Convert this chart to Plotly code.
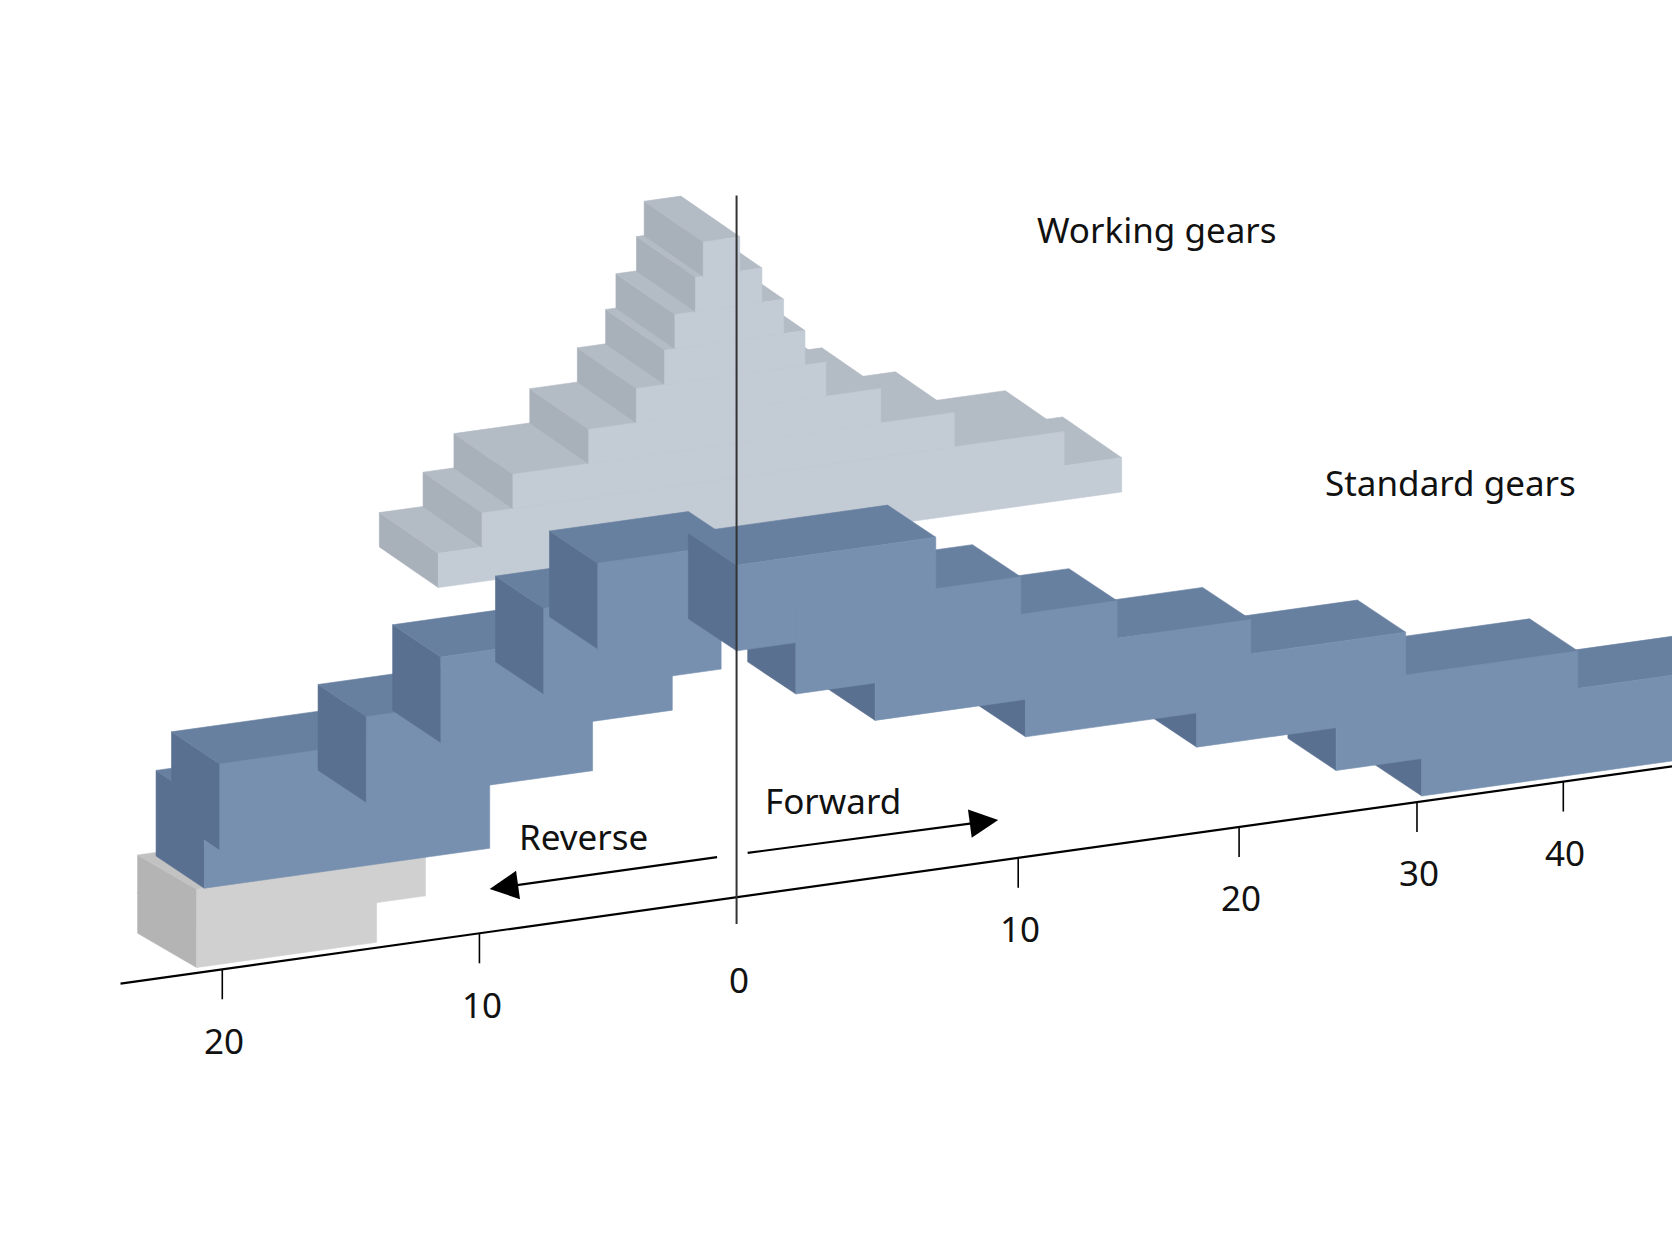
import plotly.graph_objects as go

# ---- data (speed in km/h, elevation in chart units) ----
THICK_W = 32
working_rev = [-11.6, -9.9, -8.7, -5.75, -3.9, -2.8, -2.4, -1.6, -1.3]
working_fwd = [14.4, 11.9, 7.5, 4.8, 2.9, 2.2, 1.5, 0.8, 0.1]
working_base = 328

THICK_S = 80
std_rev_start = [-20.7, -20.1, -14.4, -11.5, -7.5, -5.4]
std_rev_end = [-9.6, -12.0, -5.6, -2.5, -0.6, 0.0]
std_rev_bottom = [78, 112, 137, 183, 215, 250]
std_fwd_start = [0.0, 1.9, 4.6, 10.3, 17.9, 25.2, 30.3]
std_fwd_end = [6.8, 10.1, 14.2, 20.6, 29.3, 41.1, 70.0]
std_fwd_bottom = [230, 182, 147, 112, 80, 40, 5]

grey_start = [-21.0, -21.0]
grey_end = [-14.0, -12.1]
grey_bottom = [5, 42]
grey_thick = [38, 36]

tick_vals = [-20, -10, 0, 10, 20, 30, 40]
tick_text = ["20", "10", "0", "10", "20", "30", "40"]


def X(s):
    if s < 0:
        return 680 + 24 * s
    return 680 + 29.9 * s / (1 + 0.01375 * s)


def base_y(x):
    return 830 - 0.14 * (x - 680)


def P(s, e, d=(0, 0)):
    x = X(s)
    return (x + d[0], base_y(x) - e + d[1])


fig = go.Figure()


def poly(pts, color):
    xs = [p[0] for p in pts] + [pts[0][0]]
    ys = [p[1] for p in pts] + [pts[0][1]]
    fig.add_trace(go.Scatter(x=xs, y=ys, mode="lines", fill="toself", fillcolor=color,
                             line=dict(width=0.6, color=color), hoverinfo="skip", showlegend=False))


def faces(s0, s1, e0, e1, D):
    front = [P(s0, e0), P(s1, e0), P(s1, e1), P(s0, e1)]
    top = [P(s0, e1), P(s1, e1), P(s1, e1, D), P(s0, e1, D)]
    left = [P(s0, e0), P(s0, e1), P(s0, e1, D), P(s0, e0, D)]
    return left, top, front


def block(s0, s1, e0, e1, D, cols):
    l, t, f = faces(s0, s1, e0, e1, D)
    poly(l, cols[2]); poly(t, cols[1]); poly(f, cols[0])


WC = ("#c3cbd5", "#b3bbc5", "#a8b0ba")
BC = ("#7790b0", "#6880a0", "#5a7090")
GC = ("#d0d0d0", "#c2c2c2", "#b4b4b4")

# working gears
DW = (-55, -38)
for i, (a, b) in enumerate(zip(working_rev, working_fwd)):
    e0 = working_base + i * THICK_W
    block(a, b, e0, e0 + THICK_W, DW, WC)

# grey reverse bars
DG = (-55, -32)
for a, b, e, t in zip(grey_start, grey_end, grey_bottom, grey_thick):
    block(a, b, e, e + t, DG, GC)

# standard gears reverse
DS = (-45, -30)
for a, b, e in zip(std_rev_start, std_rev_end, std_rev_bottom):
    block(a, b, e, e + THICK_S, DS, BC)

# standard gears forward (grouped painting)
fw = [faces(a, b, e, e + THICK_S, DS) for a, b, e in zip(std_fwd_start, std_fwd_end, std_fwd_bottom)]
for k, col in ((0, BC[2]), (1, BC[1]), (2, BC[0])):
    for f in fw:
        poly(f[k], col)

# axis line
x0, y0 = 105, base_y(105)
x1, y1 = 1568, base_y(1568)
fig.add_shape(type="line", x0=x0, y0=y0, x1=x1, y1=y1, line=dict(color="black", width=2.2))
# vertical zero line
fig.add_shape(type="line", x0=X(0), y0=175, x1=X(0), y1=base_y(X(0)) + 25, line=dict(color="#333", width=2))

for v, t in zip(tick_vals, tick_text):
    x = X(v)
    y = base_y(x)
    if v != 0:
        fig.add_shape(type="line", x0=x, y0=y, x1=x, y1=y + 28, line=dict(color="black", width=1.6))
    fig.add_annotation(x=x + 2, y=y + 52 + (14 if v != 0 else 25), text=t, showarrow=False,
                       font=dict(size=35, color="#111", family="Noto Sans"))

# arrows
fig.add_annotation(x=X(-9.6), y=base_y(X(-9.6)) - 40, ax=X(-0.7), ay=base_y(X(-0.7)) - 40,
                   xref="x", yref="y", axref="x", ayref="y", text="", showarrow=True,
                   arrowhead=2, arrowsize=2.6, arrowwidth=2.2, arrowcolor="black")
fig.add_annotation(x=X(9.2), y=base_y(X(9.2)) - 38, ax=X(0.3), ay=base_y(X(0.3)) - 40,
                   xref="x", yref="y", axref="x", ayref="y", text="", showarrow=True,
                   arrowhead=2, arrowsize=2.6, arrowwidth=2.2, arrowcolor="black")

labels = [("Forward", 770, 740), ("Reverse", 537, 773), ("Working gears", 1072, 207), ("Standard gears", 1346, 443)]
for t, x, y in labels:
    fig.add_annotation(x=x, y=y, text=t, showarrow=False, font=dict(size=35, color="#111", family="Noto Sans"))

fig.update_layout(width=1680, height=1260, margin=dict(l=0, r=0, t=0, b=0),
                  plot_bgcolor="white", paper_bgcolor="white", showlegend=False,
                  xaxis=dict(range=[0, 1568], visible=False, fixedrange=True),
                  yaxis=dict(range=[1176, 0], visible=False, fixedrange=True))
fig.write_html("out.html")
